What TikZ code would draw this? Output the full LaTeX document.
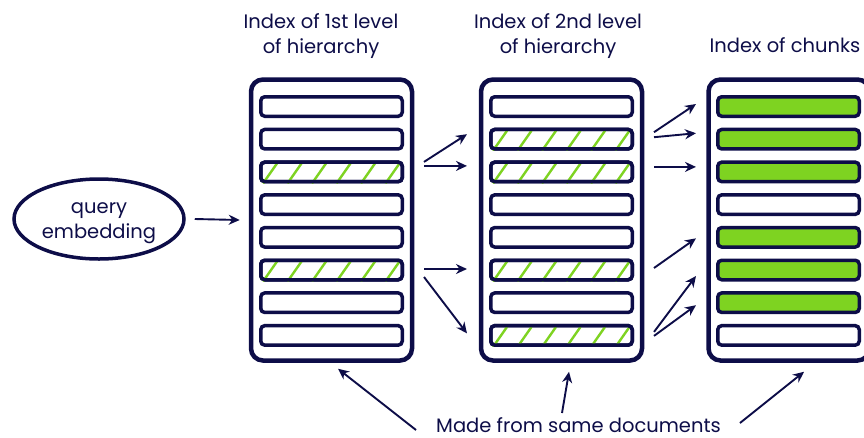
\documentclass[tikz,border=0pt]{standalone}
\usepackage{fontspec}
\setmainfont{Poppins}
\usetikzlibrary{arrows.meta,calc,shapes.geometric}
\definecolor{navy}{RGB}{13,13,72}
\definecolor{leaf}{RGB}{126,211,33}
\tikzset{
  box/.style={draw=navy,line width=4.5pt,rounded corners=12pt,minimum width=161pt,minimum height=281pt},
  bar/.style={draw=navy,line width=3.5pt,rounded corners=4pt,fill=white,minimum width=141.5pt,minimum height=19.5pt,inner sep=0pt},
  arr/.style={navy,line width=1.9pt,-{Stealth[length=11pt,width=10pt]}},
  lbl/.style={text=navy,font=\fontsize{19.5}{25}\selectfont,align=center,inner sep=0pt}
}
\begin{document}
\begin{tikzpicture}[x=1pt,y=-1pt]
  \useasboundingbox (0,0) rectangle (864,437);
  \node[lbl] (t1) at (321,36.5) {Index of 1st level\\of hierarchy};
  \node[lbl] (t2) at (558,36.5) {Index of 2nd level\\of hierarchy};
  \node[lbl] (t3) at (785,45) {Index of chunks};
  \node[ellipse,draw=navy,line width=3.5pt,minimum width=170pt,minimum height=80pt,
    label={[lbl,yshift=-4pt]center:query\\embedding}] (query) at (99,219) {};
  \node[box] (c1) at (331.5,220) {};
  \node[box] (c2) at (561.5,220) {};
  \node[box] (c3) at (789,220) {};
  % bars
  \foreach \c/\x in {1/331.5,2/561.5}
    \foreach \i in {1,...,8}
      \node[bar] (b\c\i) at (\x,{106.5+32.7*(\i-1)}) {};
  \foreach \i in {1,2,3,5,6,7}
    \node[bar,fill=leaf] (b3\i) at (788.5,{106.5+32.7*(\i-1)}) {};
  \foreach \i in {4,8}
    \node[bar] (b3\i) at (788.5,{106.5+32.7*(\i-1)}) {};
  % hatching
  \foreach \b in {b13,b16,b22,b23,b26,b28} {
    \begin{scope}
      \clip (\b.south west) rectangle (\b.north east);
      \foreach \k in {-1,...,6}
        \draw[leaf,line width=2.4pt] ($(\b.south west)+({4+24.5*\k},0)$) -- ++(14,-20);
    \end{scope}
    \draw[navy,line width=3.5pt,rounded corners=4pt] ($(\b.south west)+(1.75,-1.75)$) rectangle ($(\b.north east)+(-1.75,1.75)$);
  }
  \node[lbl,anchor=base] (docs) at (578.5,432) {Made from same documents};
  \draw[arr] ([xshift=9pt]query.east) -- ([xshift=-9pt]c1.west);
  \draw[arr] ($(b13.east)+(20,-10)$) -- ($(b22.west)+(-22,-5)$);
  \draw[arr] ($(b13.east)+(20,-6)$) -- ($(b23.west)+(-22,-6)$);
  \draw[arr] ($(b16.east)+(20,-1)$) -- ($(b26.west)+(-22,-1)$);
  \draw[arr] ($(b16.east)+(20,7)$) -- ($(b28.west)+(-22,-2)$);
  \draw[arr] ($(b22.east)+(20,-7)$) -- ($(b31.west)+(-20,-2.5)$);
  \draw[arr] ($(b22.east)+(20,-2)$) -- ($(b32.west)+(-20,-6)$);
  \draw[arr] ($(b23.east)+(20,-5)$) -- ($(b33.west)+(-20,-5)$);
  \draw[arr] ($(b26.east)+(20,-2)$) -- ($(b35.west)+(-20,1)$);
  \draw[arr] ($(b28.east)+(20,-3.5)$) -- ($(b36.west)+(-20,6)$);
  \draw[arr] ($(b28.east)+(20,0.5)$) -- ($(b37.west)+(-20,2.5)$);
  \draw[arr] ($(docs.base west)+(-20,-2)$) -- ($(c1.south)+(6.5,6)$);
  \draw[arr] ($(docs.base)+(-16.5,-19)$) -- ($(c2.south)+(7.5,9)$);
  \draw[arr] ($(docs.base east)+(19,-9)$) -- ($(c3.south)+(15,9)$);
\end{tikzpicture}
\end{document}
